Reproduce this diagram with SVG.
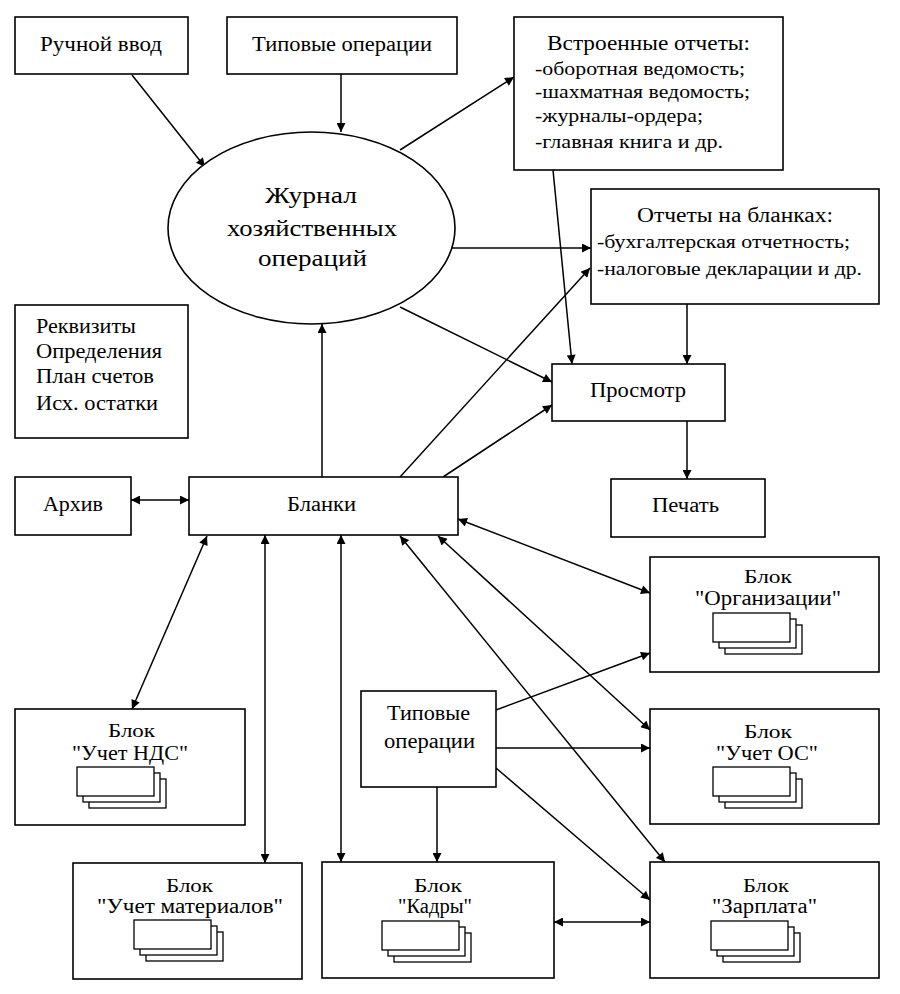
<svg xmlns="http://www.w3.org/2000/svg" xmlns:xlink="http://www.w3.org/1999/xlink" width="900" height="994" viewBox="0 0 900 994">
<defs>
<style>
.box{fill:#fff;stroke:#000;stroke-width:1.6}
.t{font-family:"Liberation Serif","Times New Roman",serif;fill:#000}
.m{font-size:20px}
.s{font-size:18px}
.e{font-size:24px}
.c line{stroke:#000;stroke-width:1.5;fill:none}
.one{marker-end:url(#ah)}
.two{marker-start:url(#ah);marker-end:url(#ah)}
.pg rect{fill:#fff;stroke:#000;stroke-width:1.3}
</style>
<marker id="ah" viewBox="0 0 10 10" refX="10" refY="5" markerWidth="11" markerHeight="9" markerUnits="userSpaceOnUse" orient="auto-start-reverse">
<path d="M0,0 L10,5 L0,10 Z" fill="#000"/>
</marker>
<g id="pages" class="pg">
<rect x="12" y="12" width="77" height="29"/>
<rect x="6" y="6" width="77" height="29"/>
<rect x="0" y="0" width="77" height="29"/>
</g>
</defs>
<rect width="900" height="994" fill="#fff"/>

<g id="connectors" class="c">
<line class="one" x1="132" y1="75" x2="205" y2="167"/>
<line class="one" x1="341" y1="74" x2="341" y2="132"/>
<line class="one" x1="400" y1="150" x2="514" y2="77"/>
<line class="one" x1="452" y1="248" x2="591" y2="248"/>
<line class="one" x1="400" y1="307" x2="552" y2="382"/>
<line class="one" x1="553" y1="170" x2="572" y2="364"/>
<line class="one" x1="400" y1="477" x2="590" y2="268"/>
<line class="one" x1="443" y1="477" x2="552" y2="405"/>
<line class="one" x1="322" y1="477" x2="322" y2="324"/>
<line class="one" x1="687" y1="304" x2="687" y2="364"/>
<line class="one" x1="687" y1="421" x2="687" y2="479"/>
<line class="two" x1="131" y1="500" x2="189" y2="500"/>
<line class="two" x1="207" y1="536" x2="132" y2="709"/>
<line class="two" x1="265" y1="535" x2="265" y2="863"/>
<line class="two" x1="341" y1="535" x2="341" y2="862"/>
<line class="two" x1="458" y1="519" x2="650" y2="593"/>
<line class="two" x1="438" y1="536" x2="650" y2="730"/>
<line class="two" x1="400" y1="536" x2="665" y2="862"/>
<line class="one" x1="496" y1="710" x2="650" y2="653"/>
<line class="one" x1="496" y1="748" x2="650" y2="748"/>
<line class="one" x1="496" y1="768" x2="650" y2="900"/>
<line class="one" x1="437" y1="787" x2="437" y2="862"/>
<line class="two" x1="554" y1="922" x2="650" y2="922"/>
</g>

<g id="manual">
<rect class="box" x="15" y="17" width="173" height="57"/>
<text class="t m" x="40" y="51" textLength="122" lengthAdjust="spacingAndGlyphs">Ручной ввод</text>
</g>
<g id="typical-top">
<rect class="box" x="227" y="17" width="230" height="57"/>
<text class="t m" x="252" y="51" textLength="180" lengthAdjust="spacingAndGlyphs">Типовые операции</text>
</g>
<g id="builtin-reports">
<rect class="box" x="514" y="17" width="269" height="153"/>
<text class="t m" x="547" y="50" textLength="203" lengthAdjust="spacingAndGlyphs">Встроенные отчеты:</text>
<text class="t s" x="535" y="75" textLength="210" lengthAdjust="spacingAndGlyphs">-оборотная ведомость;</text>
<text class="t s" x="535" y="98" textLength="215" lengthAdjust="spacingAndGlyphs">-шахматная ведомость;</text>
<text class="t s" x="535" y="122" textLength="168" lengthAdjust="spacingAndGlyphs">-журналы-ордера;</text>
<text class="t s" x="535" y="148" textLength="188" lengthAdjust="spacingAndGlyphs">-главная книга и др.</text>
</g>
<g id="journal">
<ellipse cx="311.5" cy="228" rx="143.5" ry="96" class="box"/>
<text class="t e" x="265" y="203" textLength="92" lengthAdjust="spacingAndGlyphs">Журнал</text>
<text class="t e" x="227" y="236" textLength="170" lengthAdjust="spacingAndGlyphs">хозяйственных</text>
<text class="t e" x="258" y="266" textLength="109" lengthAdjust="spacingAndGlyphs">операций</text>
</g>
<g id="form-reports">
<rect class="box" x="591" y="189" width="288" height="115"/>
<text class="t m" x="637" y="222" textLength="196" lengthAdjust="spacingAndGlyphs">Отчеты на бланках:</text>
<text class="t s" x="597" y="248" textLength="253" lengthAdjust="spacingAndGlyphs">-бухгалтерская отчетность;</text>
<text class="t s" x="597" y="275" textLength="265" lengthAdjust="spacingAndGlyphs">-налоговые декларации и др.</text>
</g>
<g id="refs">
<rect class="box" x="15" y="305" width="173" height="133"/>
<text class="t m" x="36" y="333" textLength="100" lengthAdjust="spacingAndGlyphs">Реквизиты</text>
<text class="t m" x="36" y="358" textLength="126" lengthAdjust="spacingAndGlyphs">Определения</text>
<text class="t m" x="36" y="383" textLength="118" lengthAdjust="spacingAndGlyphs">План счетов</text>
<text class="t m" x="36" y="410" textLength="122" lengthAdjust="spacingAndGlyphs">Исх. остатки</text>
</g>
<g id="view">
<rect class="box" x="552" y="364" width="173" height="57"/>
<text class="t m" x="590" y="397" textLength="96" lengthAdjust="spacingAndGlyphs">Просмотр</text>
</g>
<g id="archive">
<rect class="box" x="15" y="477" width="116" height="58"/>
<text class="t m" x="43" y="511" textLength="60" lengthAdjust="spacingAndGlyphs">Архив</text>
</g>
<g id="forms">
<rect class="box" x="189" y="477" width="269" height="58"/>
<text class="t m" x="287" y="511" textLength="69" lengthAdjust="spacingAndGlyphs">Бланки</text>
</g>
<g id="print">
<rect class="box" x="611" y="479" width="154" height="58"/>
<text class="t m" x="652" y="512" textLength="67" lengthAdjust="spacingAndGlyphs">Печать</text>
</g>
<g id="block-org">
<rect class="box" x="650" y="557" width="229" height="115"/>
<text class="t s" x="744" y="583" textLength="48" lengthAdjust="spacingAndGlyphs">Блок</text>
<text class="t m" x="695" y="605" textLength="146" lengthAdjust="spacingAndGlyphs">"Организации"</text>
<use xlink:href="#pages" x="713" y="613"/>
</g>
<g id="typical-bottom">
<rect class="box" x="361" y="691" width="135" height="96"/>
<text class="t m" x="387" y="720" textLength="83" lengthAdjust="spacingAndGlyphs">Типовые</text>
<text class="t m" x="384" y="748" textLength="91" lengthAdjust="spacingAndGlyphs">операции</text>
</g>
<g id="block-vat">
<rect class="box" x="15" y="709" width="230" height="116"/>
<text class="t s" x="108" y="737" textLength="47" lengthAdjust="spacingAndGlyphs">Блок</text>
<text class="t m" x="72" y="760" textLength="116" lengthAdjust="spacingAndGlyphs">"Учет НДС"</text>
<use xlink:href="#pages" x="77" y="767"/>
</g>
<g id="block-os">
<rect class="box" x="650" y="709" width="229" height="115"/>
<text class="t s" x="744" y="738" textLength="48" lengthAdjust="spacingAndGlyphs">Блок</text>
<text class="t m" x="716" y="760" textLength="102" lengthAdjust="spacingAndGlyphs">"Учет ОС"</text>
<use xlink:href="#pages" x="713" y="767"/>
</g>
<g id="block-materials">
<rect class="box" x="73" y="863" width="229" height="116"/>
<text class="t s" x="166" y="892" textLength="47" lengthAdjust="spacingAndGlyphs">Блок</text>
<text class="t m" x="97" y="913" textLength="186" lengthAdjust="spacingAndGlyphs">"Учет материалов"</text>
<use xlink:href="#pages" x="134" y="920"/>
</g>
<g id="block-staff">
<rect class="box" x="322" y="862" width="232" height="116"/>
<text class="t s" x="414" y="892" textLength="48" lengthAdjust="spacingAndGlyphs">Блок</text>
<text class="t m" x="398" y="913" textLength="74" lengthAdjust="spacingAndGlyphs">"Кадры"</text>
<use xlink:href="#pages" x="382" y="921"/>
</g>
<g id="block-salary">
<rect class="box" x="650" y="862" width="229" height="116"/>
<text class="t s" x="743" y="892" textLength="46" lengthAdjust="spacingAndGlyphs">Блок</text>
<text class="t m" x="712" y="913" textLength="105" lengthAdjust="spacingAndGlyphs">"Зарплата"</text>
<use xlink:href="#pages" x="711" y="921"/>
</g>
</svg>
